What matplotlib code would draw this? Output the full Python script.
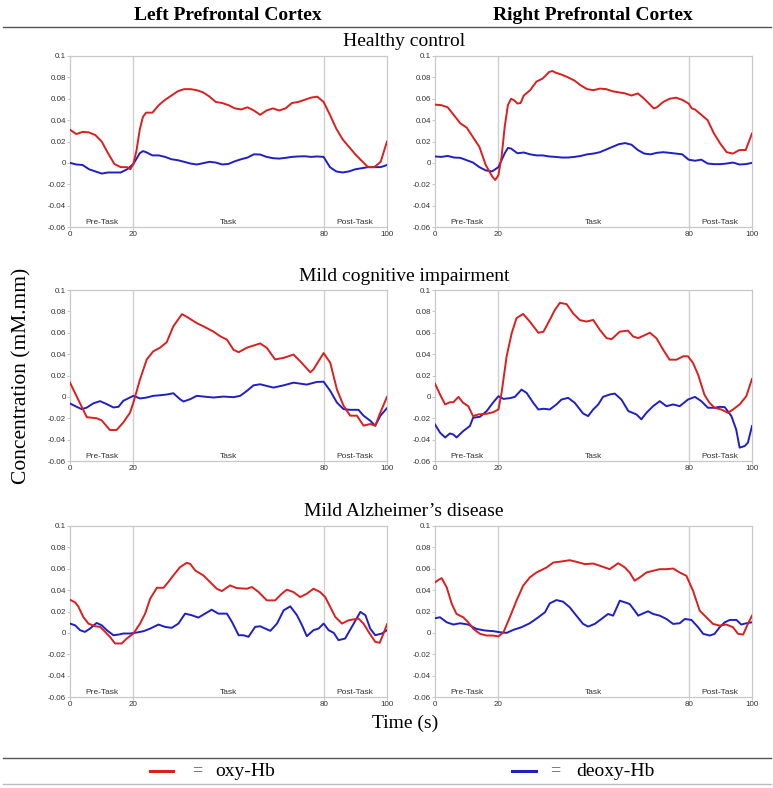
import matplotlib
matplotlib.use("Agg")
import matplotlib.pyplot as plt
from matplotlib.lines import Line2D

# ---------------- data ----------------
columns = ["Left Prefrontal Cortex", "Right Prefrontal Cortex"]
groups = ["Healthy control", "Mild cognitive impairment", "Mild Alzheimer\u2019s disease"]
series_names = ["oxy-Hb", "deoxy-Hb"]
phase_labels = ["Pre-Task", "Task", "Post-Task"]
phase_centers = [10, 50, 90]
phase_bounds = [20, 80]
x_ticks = [0, 20, 80, 100]
y_ticks = [-0.06, -0.04, -0.02, 0, 0.02, 0.04, 0.06, 0.08, 0.1]
y_tick_labels = ["-0.06", "-0.04", "-0.02", "0", "0.02", "0.04", "0.06", "0.08", "0.1"]

# Healthy control - left
hc_l_oxy_t = [0, 2, 4, 6, 8, 10, 12, 14, 16, 18, 19, 20, 21, 22, 23, 24, 26, 28, 30, 32, 34, 36, 38, 40,
              42, 44, 46, 48, 50, 52, 54, 56, 58, 60, 62, 64, 66, 68, 70, 72, 74, 76, 78, 80, 82, 84,
              86, 88, 90, 92, 94, 96, 98, 100]
hc_l_oxy = [0.031, 0.027, 0.029, 0.0285, 0.026, 0.020, 0.009, -0.001, -0.004, -0.004, -0.006, -0.001,
            0.012, 0.031, 0.043, 0.047, 0.047, 0.054, 0.059, 0.063, 0.067, 0.069, 0.069, 0.068, 0.066,
            0.062, 0.057, 0.056, 0.054, 0.051, 0.050, 0.052, 0.049, 0.045, 0.049, 0.051, 0.049, 0.051,
            0.056, 0.057, 0.059, 0.061, 0.062, 0.057, 0.045, 0.032, 0.022, 0.015, 0.008, 0.002, -0.004,
            -0.004, 0.001, 0.020]
hc_l_deoxy_t = [0, 2, 4, 6, 8, 10, 12, 14, 16, 18, 20, 22, 23, 24, 26, 28, 30, 32, 34, 36, 38, 40, 42,
                44, 46, 48, 50, 52, 54, 56, 58, 60, 62, 64, 66, 68, 70, 72, 74, 76, 78, 80, 82, 84, 86,
                88, 90, 92, 94, 96, 98, 100]
hc_l_deoxy = [0.0, -0.0015, -0.002, -0.006, -0.008, -0.010, -0.009, -0.009, -0.009, -0.006, -0.001,
              0.009, 0.011, 0.010, 0.007, 0.007, 0.0056, 0.0034, 0.0025, 0.001, -0.0006, -0.0015, -0.0003,
              0.001, 0.0003, -0.0015, -0.001, 0.0015, 0.0034, 0.005, 0.008, 0.0078, 0.0056, 0.0044, 0.004,
              0.0047, 0.0056, 0.006, 0.0062, 0.0056, 0.006, 0.0056, -0.004, -0.008, -0.009, -0.008,
              -0.006, -0.005, -0.004, -0.004, -0.004, -0.002]

# Healthy control - right
hc_r_oxy_t = [0, 2, 4, 6, 8, 10, 12, 14, 16, 18, 19, 20, 21, 22, 23, 24, 25, 26, 27, 28, 30, 32, 34, 36,
              37, 38, 40, 42, 44, 46, 48, 50, 52, 54, 56, 58, 60, 62, 64, 66, 68, 69, 70, 72, 74, 76,
              78, 80, 81, 82, 84, 86, 88, 90, 92, 94, 96, 98, 100]
hc_r_oxy = [0.0545, 0.054, 0.052, 0.0445, 0.037, 0.033, 0.024, 0.015, -0.002, -0.0125, -0.016, -0.0115,
            0.0056, 0.034, 0.054, 0.060, 0.0585, 0.0555, 0.056, 0.063, 0.068, 0.076, 0.079, 0.085, 0.086,
            0.0845, 0.0825, 0.080, 0.077, 0.0725, 0.069, 0.068, 0.0695, 0.069, 0.067, 0.066, 0.065,
            0.063, 0.065, 0.060, 0.054, 0.051, 0.052, 0.057, 0.060, 0.061, 0.059, 0.0555, 0.051, 0.050,
            0.045, 0.040, 0.0275, 0.018, 0.010, 0.0087, 0.012, 0.012, 0.0275]
hc_r_deoxy_t = [0, 2, 4, 6, 8, 10, 12, 14, 16, 18, 20, 21, 22, 23, 24, 26, 28, 30, 32, 34, 36, 38, 40,
                42, 44, 46, 48, 50, 52, 54, 56, 58, 60, 62, 64, 66, 68, 70, 72, 74, 76, 78, 80, 82, 84,
                86, 88, 90, 92, 94, 96, 98, 100]
hc_r_deoxy = [0.006, 0.0056, 0.0065, 0.005, 0.0047, 0.0025, 0.0003, -0.004, -0.007, -0.008, -0.004,
              0.0025, 0.009, 0.014, 0.0134, 0.009, 0.0097, 0.008, 0.007, 0.007, 0.006, 0.0056, 0.005,
              0.005, 0.0056, 0.0065, 0.008, 0.0087, 0.010, 0.0125, 0.015, 0.0175, 0.0185, 0.017, 0.012,
              0.0087, 0.008, 0.0094, 0.010, 0.0094, 0.0087, 0.008, 0.003, 0.002, 0.003, -0.0006, -0.0012,
              -0.0012, -0.0006, 0.0003, -0.0015, -0.0012, 0.0]

# Mild cognitive impairment - left
mci_l_oxy_t = [0, 5.3, 8.4, 10, 12.6, 14.7, 16.8, 18.9, 20, 22.1, 24.2, 26.3, 28.4, 30.5, 32.6, 35.3,
               36.8, 40, 42.1, 45.3, 47.4, 49.5, 51.6, 53.2, 55.8, 60, 62.1, 64.7, 67.4, 70.5, 72.6,
               75.8, 76.8, 80, 82.1, 84.2, 86.3, 88.4, 90.5, 92.6, 94.7, 96.3, 97.9, 100]
mci_l_oxy = [0.0133, -0.019, -0.020, -0.022, -0.031, -0.031, -0.024, -0.015, -0.0053, 0.0164, 0.035,
             0.0427, 0.046, 0.0511, 0.066, 0.0774, 0.075, 0.069, 0.066, 0.061, 0.0567, 0.0536, 0.044,
             0.0418, 0.046, 0.050, 0.0458, 0.035, 0.0365, 0.0396, 0.0334, 0.023, 0.0257, 0.041, 0.0319,
             0.007, -0.0084, -0.0176, -0.0176, -0.0269, -0.0254, -0.027, -0.0146, 0.0]
mci_l_deoxy_t = [0, 2.1, 3.7, 5.3, 7.4, 9.5, 11.6, 13.7, 15.3, 16.8, 18.9, 20, 22.1, 24.2, 26.3, 28.4,
                 30.5, 32.6, 34.7, 35.8, 37.9, 40, 42.1, 45.3, 48.4, 51.6, 53.7, 55.8, 57.9, 60, 62.1,
                 64.2, 67.4, 70.5, 72.6, 74.7, 77.9, 80, 82.1, 84.2, 86.3, 88.4, 91, 92.6, 94.7, 96.3,
                 97.9, 100]
mci_l_deoxy = [-0.0062, -0.0093, -0.0115, -0.010, -0.006, -0.004, -0.0068, -0.0099, -0.0093, -0.0037,
               -0.0006, 0.001, -0.0015, -0.0006, 0.001, 0.0015, 0.0022, 0.0034, -0.0022, -0.0043,
               -0.0022, 0.001, 0.0003, -0.0006, 0.0003, -0.0003, 0.001, 0.0056, 0.0108, 0.0118, 0.0102,
               0.0087, 0.0108, 0.0133, 0.0124, 0.0115, 0.014, 0.0142, 0.0056, -0.0053, -0.0115, -0.0121,
               -0.0121, -0.0176, -0.0223, -0.027, -0.0177, -0.0105]

# Mild cognitive impairment - right
mci_r_oxy_t = [0, 1.6, 3.2, 4.7, 5.8, 7.4, 8.9, 10.5, 12, 13.7, 16.3, 18.4, 20, 21, 22.6, 24.2, 25.7,
               27.8, 29.9, 32.6, 34.2, 36.2, 37.8, 39.4, 41.5, 43.6, 45.7, 47.8, 49.9, 52, 54.1, 55.7,
               58.3, 60.9, 62.5, 64.1, 65.7, 67.8, 69.9, 72, 74, 76.2, 78.3, 79.8, 81.4, 83, 85, 86.6,
               88.2, 90.3, 92.4, 94, 96.1, 98.2, 100]
mci_r_oxy = [0.0124, 0.0022, -0.0071, -0.0050, -0.0050, 0.0, -0.0056, -0.0087, -0.018, -0.0164, -0.0158,
             -0.0143, -0.0118, 0.0037, 0.038, 0.0596, 0.0736, 0.0776, 0.0705, 0.060, 0.0609, 0.072,
             0.0813, 0.088, 0.0868, 0.078, 0.0718, 0.0705, 0.072, 0.0627, 0.055, 0.054, 0.061, 0.062,
             0.0565, 0.055, 0.0571, 0.060, 0.0547, 0.044, 0.0348, 0.0348, 0.038, 0.038, 0.0317, 0.0208,
             0.002, -0.0056, -0.0102, -0.0118, -0.0149, -0.0118, -0.0071, 0.0006, 0.0168]
mci_r_deoxy_t = [0, 1.6, 3.2, 4.7, 5.8, 6.8, 8.9, 11, 12, 14.2, 16.3, 18.4, 20, 21.6, 23.6, 25.2, 27.3,
                 28.9, 31, 32.6, 34.2, 36.2, 38.3, 39.9, 42, 44.1, 46.7, 48.3, 49.9, 51.5, 53, 55.1,
                 56.7, 58.8, 61, 63.6, 65.1, 66.7, 68.8, 70.9, 73, 75.1, 77.2, 79.8, 82, 84, 86.1, 88.2,
                 89.8, 91.4, 93.5, 95, 96.1, 97.7, 98.7, 100]
mci_r_deoxy = [-0.0258, -0.0335, -0.038, -0.0342, -0.0352, -0.038, -0.0320, -0.0273, -0.0196, -0.0186,
               -0.0133, -0.005, 0.0006, -0.0019, -0.0012, 0.0, 0.0068, 0.0037, -0.0056, -0.0118, -0.0111,
               -0.0118, -0.0071, -0.0025, -0.0009, -0.0056, -0.0155, -0.018, -0.0118, -0.0071, 0.0,
               0.0022, 0.0031, -0.0025, -0.0133, -0.0165, -0.021, -0.0149, -0.0087, -0.004, -0.0087,
               -0.0071, -0.0087, -0.0025, 0.0, -0.0040, -0.0102, -0.0102, -0.0093, -0.0096, -0.018,
               -0.0304, -0.0475, -0.046, -0.0429, -0.0273]

# Mild Alzheimer's disease - left
ad_l_oxy_t = [0, 1.6, 2.6, 4.2, 5.8, 7.9, 9.5, 11.1, 12.6, 14.2, 16.3, 17.9, 20, 22.1, 23.7, 25.3, 27.4,
              29.5, 31, 32.6, 34.7, 36.8, 37.9, 39.5, 42.1, 44.2, 46.3, 47.9, 50.5, 52.6, 55.8, 57.4,
              59.5, 62.1, 64.7, 66.8, 68.4, 70.5, 72.6, 74.7, 76.8, 78.9, 80.5, 82.1, 83.7, 85.8, 87.9,
              91, 92.6, 94.2, 96.3, 97.7, 98.9, 100]
ad_l_oxy = [0.031, 0.0286, 0.0248, 0.0149, 0.0087, 0.0062, 0.0056, 0.0009, -0.0037, -0.0099, -0.0099,
            -0.0053, -0.0006, 0.0087, 0.018, 0.032, 0.0422, 0.0422, 0.0475, 0.0537, 0.0615, 0.0655,
            0.0646, 0.0584, 0.0537, 0.0475, 0.0413, 0.0391, 0.0444, 0.0419, 0.0413, 0.0429, 0.0382,
            0.0304, 0.0304, 0.0366, 0.0404, 0.0382, 0.0335, 0.0366, 0.0413, 0.0382, 0.0335, 0.0242,
            0.0149, 0.0087, 0.0118, 0.0134, 0.0087, 0.0009, -0.0084, -0.0093, -0.0006, 0.0081]
ad_l_deoxy_t = [0, 1.6, 3.2, 4.7, 6.3, 8.4, 10, 11.6, 13.7, 15.3, 16.8, 18.9, 21, 23.2, 25.3, 27.9, 30,
                32.1, 34.2, 36.3, 38.4, 40.5, 42.6, 44.7, 46.8, 49.5, 51.1, 53.2, 54.7, 56.3, 58.4,
                60, 61.6, 63.2, 65.3, 67.4, 69.5, 71.6, 73.2, 74.7, 76.8, 78.4, 80, 81.6, 83.2, 84.7,
                86.8, 88.9, 91.6, 93.2, 94.7, 96.3, 98.4, 100]
ad_l_deoxy = [0.0087, 0.0071, 0.0025, 0.0009, 0.0040, 0.0093, 0.0071, 0.0025, -0.0022, -0.0016,
              -0.0006, -0.0006, 0.0003, 0.0016, 0.004, 0.0078, 0.0056, 0.0047, 0.0087, 0.018, 0.0165,
              0.0143, 0.018, 0.0217, 0.018, 0.018, 0.0102, -0.0022, -0.0022, -0.0037, 0.0056, 0.0062,
              0.004, 0.0019, 0.0087, 0.0211, 0.0248, 0.0165, 0.0071, -0.0031, 0.0025, 0.0040, 0.0087,
              0.0025, 0.0, -0.0068, -0.0053, 0.0056, 0.0196, 0.0165, 0.0040, -0.0022, -0.0006, 0.0025]

# Mild Alzheimer's disease - right
ad_r_oxy_t = [0, 1, 2.1, 3.7, 5.3, 6.8, 8.9, 10.5, 12.1, 14.2, 16.3, 18.4, 20, 21.6, 23.6, 25.7, 27.8,
              29.9, 32, 35.2, 37.3, 39.9, 42.5, 44.6, 47.3, 49.9, 53, 55.1, 57.8, 59.9, 61.4, 63, 64.6,
              66.7, 68.8, 70.9, 73, 75.1, 77.2, 79.3, 81.4, 83.5, 85.6, 87.7, 89.8, 91.9, 94, 95.6,
              97.2, 98.7, 100]
ad_r_oxy = [0.0472, 0.0494, 0.0512, 0.0425, 0.027, 0.0177, 0.0146, 0.0099, 0.0037, -0.0009, -0.0025,
            -0.0025, -0.0034, 0.0006, 0.0146, 0.0301, 0.0441, 0.0519, 0.0565, 0.0612, 0.0658, 0.0668,
            0.068, 0.0665, 0.0643, 0.0649, 0.0618, 0.0596, 0.0652, 0.0612, 0.0565, 0.0488, 0.0519,
            0.0565, 0.0581, 0.0596, 0.0596, 0.0602, 0.0565, 0.0534, 0.0394, 0.0208, 0.0146, 0.0084,
            0.0068, 0.0078, 0.0053, -0.0009, -0.0016, 0.0084, 0.0161]
ad_r_deoxy_t = [0, 1.6, 3.7, 5.8, 7.9, 10.5, 13.1, 15.8, 18.4, 20.5, 22.6, 24.7, 27.3, 29.9, 32.6, 34.7,
                36.2, 38.3, 40.4, 42.5, 44.6, 46.7, 48.3, 50.4, 52.5, 54.6, 56.2, 58.3, 59.9, 61.4, 63,
                64.1, 65.7, 67.2, 68.8, 70.9, 73, 75.1, 77.2, 78.8, 80.9, 83, 84.6, 86.7, 88.2, 89.8,
                91.4, 93, 95.1, 96.6, 98.2, 100]
ad_r_deoxy = [0.0137, 0.0146, 0.0099, 0.0078, 0.009, 0.0078, 0.0037, 0.0022, 0.0016, 0.0006, 0.0,
              0.0028, 0.0053, 0.0090, 0.0146, 0.0193, 0.0276, 0.0307, 0.0292, 0.0239, 0.0161, 0.0084,
              0.0059, 0.0084, 0.0130, 0.0177, 0.0161, 0.0301, 0.0286, 0.0270, 0.0208, 0.0161, 0.0183,
              0.0202, 0.0177, 0.0161, 0.0130, 0.0084, 0.0090, 0.013, 0.0121, 0.0053, -0.0009, -0.0025,
              -0.0009, 0.0053, 0.0099, 0.0121, 0.0121, 0.0078, 0.0090, 0.0099]

panels = [
    [(hc_l_oxy_t, hc_l_oxy, hc_l_deoxy_t, hc_l_deoxy), (hc_r_oxy_t, hc_r_oxy, hc_r_deoxy_t, hc_r_deoxy)],
    [(mci_l_oxy_t, mci_l_oxy, mci_l_deoxy_t, mci_l_deoxy), (mci_r_oxy_t, mci_r_oxy, mci_r_deoxy_t, mci_r_deoxy)],
    [(ad_l_oxy_t, ad_l_oxy, ad_l_deoxy_t, ad_l_deoxy), (ad_r_oxy_t, ad_r_oxy, ad_r_deoxy_t, ad_r_deoxy)],
]

# ---------------- style ----------------
RED = "#d7201f"
BLUE = "#1f1fc4"
SERIF = ["Liberation Serif", "DejaVu Serif"]
SANS = ["Liberation Sans", "DejaVu Sans"]
W, H = 773, 788

fig = plt.figure(figsize=(W / 100, H / 100), dpi=100)

col_left = [70, 435]
col_width = 317
row_top = [56, 290, 526]
row_height = 171

def fx(px):
    return px / W

def fy(py):
    return 1 - py / H

for r in range(3):
    for c in range(2):
        l = col_left[c]
        t = row_top[r]
        ax = fig.add_axes([fx(l), fy(t + row_height), col_width / W, row_height / H])
        ot, ov, dt, dv = panels[r][c]
        for b in phase_bounds:
            ax.axvline(b, color="#cfcfcf", lw=1.0, zorder=1)
        ax.plot(dt, dv, color=BLUE, lw=1.4, zorder=3, solid_joinstyle="round")
        ax.plot(ot, ov, color=RED, lw=1.4, zorder=4, solid_joinstyle="round")
        ax.set_xlim(0, 100)
        ax.set_ylim(-0.06, 0.1)
        ax.set_xticks(x_ticks)
        ax.set_xticklabels([str(v) for v in x_ticks])
        ax.set_yticks(y_ticks)
        ax.set_yticklabels(y_tick_labels)
        for lab in ax.get_xticklabels() + ax.get_yticklabels():
            lab.set_fontfamily(SANS)
            lab.set_fontsize(5.8)
            lab.set_color("#333333")
        ax.tick_params(axis="both", length=2, width=0.6, color="#bbbbbb", pad=1)
        for s in ax.spines.values():
            s.set_color("#c8c8c8")
            s.set_linewidth(0.9)
        for lbl, xc in zip(phase_labels, phase_centers):
            ax.text(xc, -0.0555, lbl, ha="center", va="center", fontsize=6,
                    family=SANS, color="#333333")

# column headers
fig.text(fx(228), fy(15), columns[0], ha="center", va="center", fontsize=14,
         fontweight="bold", family=SERIF)
fig.text(fx(593), fy(15), columns[1], ha="center", va="center", fontsize=14,
         fontweight="bold", family=SERIF)

# group titles
for t, g in zip(row_top, groups):
    fig.text(fx(404), fy(t - 14), g, ha="center", va="center", fontsize=14, family=SERIF)

# axis labels
fig.text(fx(405), fy(723), "Time (s)", ha="center", va="center", fontsize=14, family=SERIF)
fig.text(fx(22), fy(376), "Concentration (mM.mm)", ha="center", va="center", fontsize=15.5,
         family=SERIF, rotation=90)

# separators
fig.add_artist(Line2D([fx(3), fx(771)], [fy(27), fy(27)], color="#555555", lw=1.0,
                      transform=fig.transFigure))
fig.add_artist(Line2D([fx(3), fx(771)], [fy(758), fy(758)], color="#555555", lw=1.0,
                      transform=fig.transFigure))
fig.add_artist(Line2D([fx(3), fx(771)], [fy(784), fy(784)], color="#bbbbbb", lw=1.0,
                      transform=fig.transFigure))

# legend row
ly = fy(771)
fig.add_artist(Line2D([fx(150), fx(173)], [ly, ly], color=RED, lw=2.2, transform=fig.transFigure))
fig.text(fx(197), ly, "=", ha="center", va="center", fontsize=13, family=SERIF, color="#555555")
fig.text(fx(215), ly, series_names[0], ha="left", va="center", fontsize=14, family=SERIF)
fig.add_artist(Line2D([fx(512), fx(536)], [ly, ly], color=BLUE, lw=2.2, transform=fig.transFigure))
fig.text(fx(555), ly, "=", ha="center", va="center", fontsize=13, family=SERIF, color="#555555")
fig.text(fx(576), ly, series_names[1], ha="left", va="center", fontsize=14, family=SERIF)

fig.savefig("out.png", dpi=100)
